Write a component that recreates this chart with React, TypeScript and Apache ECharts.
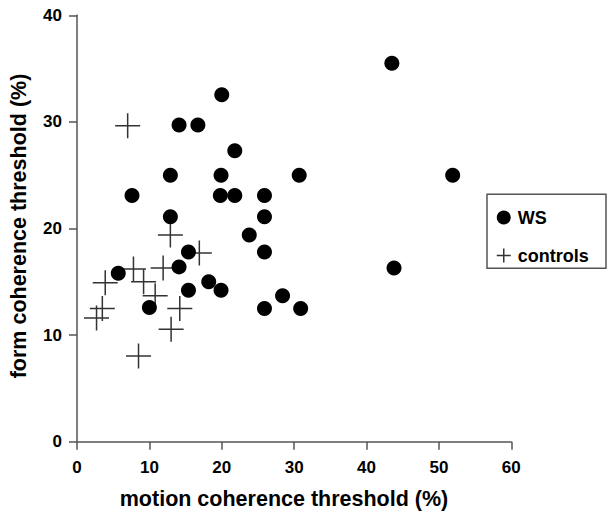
import React, { useEffect, useRef } from "react";
import * as echarts from "echarts";

const wsMotion = [20.0, 14.1, 16.7, 21.8, 12.9, 19.9, 30.7, 51.9, 7.6, 19.8, 21.8, 25.9, 12.9, 25.9, 23.8, 15.4, 25.9, 43.5, 43.8, 14.1, 5.7, 15.4, 18.2, 19.9, 10.0, 25.9, 28.4, 30.9];
const wsForm = [32.55, 29.7, 29.7, 27.3, 25.0, 25.0, 25.0, 25.0, 23.1, 23.1, 23.1, 23.1, 21.1, 21.1, 19.4, 17.8, 17.8, 35.5, 16.3, 16.4, 15.8, 14.2, 15.0, 14.2, 12.6, 12.5, 13.7, 12.5];

const ctrlMotion = [7.0, 3.9, 7.8, 9.2, 10.8, 11.9, 12.9, 16.9, 14.2, 13.0, 8.5, 3.5, 2.7];
const ctrlForm = [29.65, 14.9, 16.2, 15.0, 13.7, 16.3, 19.4, 17.7, 12.5, 10.55, 8.05, 12.5, 11.6];

const xTicks = [0, 10, 20, 30, 40, 50, 60];
const yTicks = [0, 10, 20, 30, 40];

const FONT = "'Liberation Sans', Arial, Helvetica, sans-serif";
const CROSS = "path://M12,0L12,24M0,12L24,12";

export default function App() {
  const ref = useRef<HTMLDivElement>(null);
  useEffect(() => {
    if (!ref.current) return;
    const chart = echarts.init(ref.current, undefined, { renderer: "svg" });
    const axisColor = "#555";
    const tickText = { color: "#000", fontSize: 17, fontWeight: "bold" as const, fontFamily: FONT };
    chart.setOption({
      animation: false,
      backgroundColor: "#fff",
      grid: { left: 77, right: 95.7, top: 15.3, bottom: 69.3, containLabel: false },
      xAxis: {
        type: "value",
        min: xTicks[0],
        max: xTicks[xTicks.length - 1],
        interval: 10,
        splitLine: { show: false },
        axisLine: { show: true, onZero: false, lineStyle: { color: axisColor, width: 1.5 } },
        axisTick: { show: true, length: 8, inside: false, lineStyle: { color: axisColor, width: 1.5 } },
        axisLabel: { show: true, margin: 17, ...tickText },
      },
      yAxis: {
        type: "value",
        min: yTicks[0],
        max: yTicks[yTicks.length - 1],
        interval: 10,
        splitLine: { show: false },
        axisLine: { show: true, onZero: false, lineStyle: { color: axisColor, width: 1.5 } },
        axisTick: { show: true, length: 8, inside: false, lineStyle: { color: axisColor, width: 1.5 } },
        axisLabel: { show: true, margin: 15, ...tickText },
      },
      legend: {
        orient: "vertical",
        left: 496,
        top: 207.5,
        padding: 0,
        itemWidth: 14,
        itemHeight: 14,
        itemGap: 18,
        textStyle: { color: "#000", fontSize: 18, fontWeight: 700, fontFamily: FONT, lineHeight: 20, padding: [0, 0, 0, 2] },
        data: [
          { name: "WS", icon: "circle", itemStyle: { color: "#000" } },
          { name: "controls", icon: CROSS, itemStyle: { color: "transparent", borderColor: "#333", borderWidth: 1.5 } },
        ],
      },
      graphic: [
        {
          type: "rect",
          shape: { x: 487, y: 194.3, width: 119, height: 74 },
          style: { fill: "none", stroke: axisColor, lineWidth: 1.5 },
          z: -1,
        },
        {
          type: "text",
          x: 284,
          y: 499,
          style: {
            text: "motion coherence threshold (%)",
            fontSize: 21.5,
            fontWeight: 700,
            fontFamily: FONT,
            fill: "#000",
            align: "center",
            verticalAlign: "middle",
          },
        },
        {
          type: "text",
          x: 19,
          y: 226,
          rotation: Math.PI / 2,
          style: {
            text: "form coherence threshold (%)",
            fontSize: 21.5,
            fontWeight: 700,
            fontFamily: FONT,
            fill: "#000",
            align: "center",
            verticalAlign: "middle",
          },
        },
      ],
      series: [
        {
          name: "WS",
          type: "scatter",
          symbol: "circle",
          symbolSize: 15,
          itemStyle: { color: "#000", opacity: 1 },
          data: wsMotion.map((x, i) => [x, wsForm[i]]),
          z: 3,
        },
        {
          name: "controls",
          type: "scatter",
          symbol: CROSS,
          symbolSize: 25,
          itemStyle: { color: "transparent", borderColor: "#333", borderWidth: 1.5, opacity: 1 },
          data: ctrlMotion.map((x, i) => [x, ctrlForm[i]]),
          z: 2,
        },
      ],
    });
    return () => chart.dispose();
  }, []);
  return (
    <div
      ref={ref}
      style={{ position: "fixed", left: 0, top: 0, width: 607, height: 511, background: "#fff" }}
    />
  );
}
